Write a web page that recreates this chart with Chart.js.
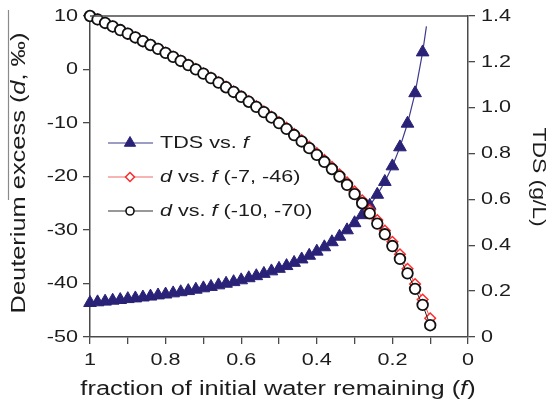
<!DOCTYPE html>
<html>
<head>
<meta charset="utf-8">
<script src="https://cdn.jsdelivr.net/npm/chart.js@4.4.0/dist/chart.umd.min.js"></script>
<style>
  html, body { margin: 0; padding: 0; background: #fff; }
  #wrap { width: 550px; height: 407px; }
</style>
</head>
<body>
<div id="wrap"><canvas id="c" width="550" height="407"></canvas></div>
<script>
// fraction of initial water remaining
const fValues = [1.00, 0.98, 0.96, 0.94, 0.92, 0.90, 0.88, 0.86, 0.84, 0.82,
                 0.80, 0.78, 0.76, 0.74, 0.72, 0.70, 0.68, 0.66, 0.64, 0.62,
                 0.60, 0.58, 0.56, 0.54, 0.52, 0.50, 0.48, 0.46, 0.44, 0.42,
                 0.40, 0.38, 0.36, 0.34, 0.32, 0.30, 0.28, 0.26, 0.24, 0.22,
                 0.20, 0.18, 0.16, 0.14, 0.12, 0.10];
// d vs f (-7, -46)
const dRed = [10, 9.36, 8.71, 8.05, 7.38, 6.71, 6.01, 5.31, 4.61, 3.88,
              3.16, 2.41, 1.66, 0.89, 0.10, -0.70, -1.52, -2.36, -3.22, -4.10,
              -5.00, -5.92, -6.86, -7.83, -8.82, -9.82, -10.88, -12.01, -13.19, -14.42,
              -15.65, -16.9, -18.2, -19.58, -21.1, -22.8, -24.45, -26.3, -28.15, -30.1,
              -32.2, -34.55, -37.25, -40.1, -43.0, -46.5];
// d vs f (-10, -70)
const dBlack = [10, 9.36, 8.70, 8.04, 7.37, 6.69, 5.99, 5.29, 4.58, 3.85,
                3.11, 2.36, 1.60, 0.82, 0.03, -0.78, -1.61, -2.45, -3.32, -4.20,
                -5.10, -6.03, -6.98, -7.96, -8.97, -10.01, -11.1, -12.25, -13.45, -14.7,
                -15.95, -17.25, -18.6, -20.0, -21.55, -23.3, -25.0, -26.9, -28.8, -30.8,
                -33.0, -35.4, -38.1, -41.0, -44.0, -47.8];
// TDS (g/L); markers down to f = 0.12, the line runs on to f = 0.11
const tdsF = fValues.slice(0, 45).concat([0.11]);
const tdsValues = [0.149, 0.152, 0.155, 0.159, 0.162, 0.166, 0.169, 0.173, 0.177, 0.182,
                   0.186, 0.191, 0.196, 0.201, 0.207, 0.213, 0.219, 0.226, 0.233, 0.240,
                   0.248, 0.257, 0.266, 0.276, 0.287, 0.298, 0.310, 0.324, 0.339, 0.355,
                   0.373, 0.392, 0.414, 0.438, 0.466, 0.497, 0.532, 0.573, 0.621, 0.677,
                   0.745, 0.828, 0.931, 1.064, 1.242, 1.355];

const xTicks = [1, 0.8, 0.6, 0.4, 0.2, 0];
const xTickLabels = ['1', '0.8', '0.6', '0.4', '0.2', '0'];
const leftTicks = [10, 0, -10, -20, -30, -40, -50];
const leftTickLabels = ['10', '0', '-10', '-20', '-30', '-40', '-50'];
const rightTicks = [1.4, 1.2, 1.0, 0.8, 0.6, 0.4, 0.2, 0];
const rightTickLabels = ['1.4', '1.2', '1.0', '0.8', '0.6', '0.4', '0.2', '0'];

const legendRows = [
  [['TDS vs. ', false], ['f', true]],
  [['d', true], [' vs. ', false], ['f', true], [' (-7, -46)', false]],
  [['d', true], [' vs. ', false], ['f', true], [' (-10, -70)', false]]
];

const FAMILY = '"Liberation Sans", Arial, Helvetica, sans-serif';
const STRETCH = 1.27;
const axisColor = '#4a4a4a';
const textColor = '#1c1c1c';
const navy = '#2a2277';
const red = '#ff2a2a';

// text with mixed italic parts, stretched a bit wider like the original
function drawParts(ctx, parts, x, y, size, align, angle) {
  ctx.save();
  ctx.translate(x, y);
  ctx.rotate(angle || 0);
  ctx.scale(STRETCH, 1);
  ctx.textBaseline = 'middle';
  ctx.textAlign = 'left';
  ctx.fillStyle = textColor;
  let total = 0;
  parts.forEach(p => {
    ctx.font = (p[1] ? 'italic ' : '') + size + 'px ' + FAMILY;
    total += ctx.measureText(p[0]).width;
  });
  let cx = align === 'center' ? -total / 2 : (align === 'right' ? -total : 0);
  parts.forEach(p => {
    ctx.font = (p[1] ? 'italic ' : '') + size + 'px ' + FAMILY;
    ctx.fillText(p[0], cx, 0);
    cx += ctx.measureText(p[0]).width;
  });
  ctx.restore();
}

function marker(ctx, style, x, y, r) {
  ctx.beginPath();
  if (style === 'triangle') {
    ctx.moveTo(x, y - r);
    ctx.lineTo(x + 0.866 * r, y + 0.5 * r);
    ctx.lineTo(x - 0.866 * r, y + 0.5 * r);
    ctx.closePath();
  } else if (style === 'rectRot') {
    ctx.moveTo(x, y - r);
    ctx.lineTo(x + r, y);
    ctx.lineTo(x, y + r);
    ctx.lineTo(x - r, y);
    ctx.closePath();
  } else {
    ctx.arc(x, y, r, 0, Math.PI * 2);
  }
  ctx.fill();
  ctx.stroke();
}

const decor = {
  id: 'decor',
  afterDraw(chart) {
    const ctx = chart.ctx;
    const area = chart.chartArea;
    const sx = chart.scales.x, sy = chart.scales.y, sy2 = chart.scales.y2;

    // top frame line
    ctx.save();
    ctx.strokeStyle = axisColor;
    ctx.lineWidth = 1.5;
    ctx.beginPath();
    ctx.moveTo(area.left, area.top);
    ctx.lineTo(area.right, area.top);
    ctx.stroke();
    // stray grey line beside the left title
    ctx.strokeStyle = '#8a8a8a';
    ctx.lineWidth = 1.2;
    ctx.beginPath();
    ctx.moveTo(8.5, 10);
    ctx.lineTo(8.5, 200);
    ctx.stroke();
    ctx.restore();

    // tick labels
    xTicks.forEach((v, i) => drawParts(ctx, [[xTickLabels[i], false]], sx.getPixelForValue(v), 360, 17, 'center'));
    leftTicks.forEach((v, i) => drawParts(ctx, [[leftTickLabels[i], false]], 78, sy.getPixelForValue(v), 17, 'right'));
    rightTicks.forEach((v, i) => drawParts(ctx, [[rightTickLabels[i], false]], 481, sy2.getPixelForValue(v), 17, 'left'));

    // axis titles
    drawParts(ctx, [['fraction of initial water remaining (', false], ['f', true], [')', false]], 278, 389, 20, 'center');
    drawParts(ctx, [['Deuterium excess (', false], ['d', true], [', \u2030)', false]], 19, 173, 20, 'center', -Math.PI / 2);
    drawParts(ctx, [['TDS (g/L)', false]], 538, 177, 18, 'center', Math.PI / 2);

    // legend
    const rowsY = [143, 177, 211];
    const look = [
      { line: '#3d3a8c', style: 'triangle', fill: navy, stroke: navy, r: 6.5, w: 1 },
      { line: '#f06a6a', style: 'rectRot', fill: '#fff', stroke: red, r: 4.5, w: 1.5 },
      { line: '#333', style: 'circle', fill: '#fff', stroke: '#111', r: 4, w: 1.6 }
    ];
    legendRows.forEach((parts, i) => {
      const y = rowsY[i], L = look[i];
      ctx.save();
      ctx.strokeStyle = L.line;
      ctx.lineWidth = 1.2;
      ctx.beginPath();
      ctx.moveTo(108, y);
      ctx.lineTo(153, y);
      ctx.stroke();
      ctx.fillStyle = L.fill;
      ctx.strokeStyle = L.stroke;
      ctx.lineWidth = L.w;
      marker(ctx, L.style, 130, y, L.r);
      ctx.restore();
      drawParts(ctx, parts, 160, y, 17, 'left');
    });
  }
};

function axisOpts(extra) {
  return Object.assign({
    type: 'linear',
    grid: { drawOnChartArea: false, drawTicks: true, tickLength: 7, color: axisColor, lineWidth: 1.3 },
    border: { display: true, color: axisColor, width: 1.5 }
  }, extra);
}

new Chart(document.getElementById('c'), {
  type: 'line',
  data: {
    datasets: [
      {
        label: 'd vs. f (-10, -70)',
        data: fValues.map((f, i) => ({ x: f, y: dBlack[i] })),
        yAxisID: 'y',
        borderColor: '#222',
        borderWidth: 1,
        pointStyle: 'circle',
        pointRadius: 5.3,
        pointBackgroundColor: '#fff',
        pointBorderColor: '#111',
        pointBorderWidth: 1.8,
        tension: 0,
        clip: false,
        order: 0
      },
      {
        label: 'd vs. f (-7, -46)',
        data: fValues.map((f, i) => ({ x: f, y: dRed[i] })),
        yAxisID: 'y',
        borderColor: '#ff4a4a',
        borderWidth: 1,
        pointStyle: 'rectRot',
        pointRadius: 5.3,
        pointBackgroundColor: '#fff',
        pointBorderColor: red,
        pointBorderWidth: 1.5,
        tension: 0,
        clip: false,
        order: 1
      },
      {
        label: 'TDS vs. f',
        data: tdsF.map((f, i) => ({ x: f, y: tdsValues[i] })),
        yAxisID: 'y2',
        borderColor: '#3d3a8c',
        borderWidth: 1.2,
        pointStyle: 'triangle',
        pointRadius: tdsF.map((f, i) => i < tdsF.length - 1 ? 7.3 : 0),
        pointBackgroundColor: navy,
        pointBorderColor: navy,
        pointBorderWidth: 1,
        tension: 0,
        clip: false,
        order: 2
      }
    ]
  },
  options: {
    responsive: false,
    devicePixelRatio: 1,
    animation: false,
    events: [],
    layout: { padding: { top: 16, left: 0, right: 0, bottom: 0 } },
    plugins: { legend: { display: false }, tooltip: { enabled: false } },
    scales: {
      x: axisOpts({
        position: 'bottom', min: 0, max: 1, reverse: true,
        ticks: { stepSize: 0.1, display: false },
        afterFit(s) { s.height = 70; }
      }),
      y: axisOpts({
        position: 'left', min: -50, max: 10,
        ticks: { stepSize: 10, display: false },
        afterFit(s) { s.width = 90; }
      }),
      y2: axisOpts({
        position: 'right', min: 0, max: 1.4,
        ticks: { stepSize: 0.2, display: false },
        afterFit(s) { s.width = 82; }
      })
    }
  },
  plugins: [decor]
});
</script>
</body>
</html>
